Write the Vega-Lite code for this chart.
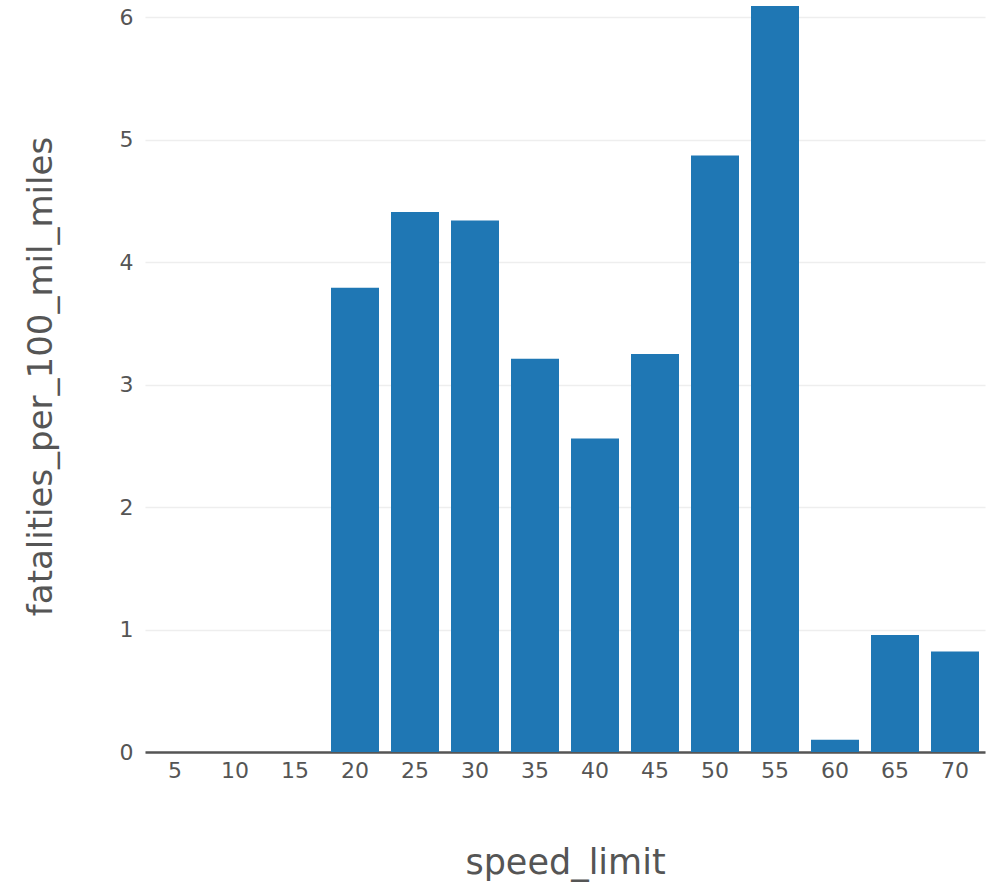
{
  "$schema": "https://vega.github.io/schema/vega-lite/v6.json",
  "width": 840,
  "height": 752,
  "autosize": "none",
  "padding": {"left": 145, "top": 0, "right": 15, "bottom": 139},
  "background": "white",
  "config": {"view": {"stroke": null}, "font": "DejaVu Sans"},
  "data": {"values": [
    {"speed_limit": 5, "fatalities_per_100_mil_miles": 0},
    {"speed_limit": 10, "fatalities_per_100_mil_miles": 0},
    {"speed_limit": 15, "fatalities_per_100_mil_miles": 0},
    {"speed_limit": 20, "fatalities_per_100_mil_miles": 3.79},
    {"speed_limit": 25, "fatalities_per_100_mil_miles": 4.41},
    {"speed_limit": 30, "fatalities_per_100_mil_miles": 4.34},
    {"speed_limit": 35, "fatalities_per_100_mil_miles": 3.21},
    {"speed_limit": 40, "fatalities_per_100_mil_miles": 2.56},
    {"speed_limit": 45, "fatalities_per_100_mil_miles": 3.25},
    {"speed_limit": 50, "fatalities_per_100_mil_miles": 4.87},
    {"speed_limit": 55, "fatalities_per_100_mil_miles": 6.09},
    {"speed_limit": 60, "fatalities_per_100_mil_miles": 0.10},
    {"speed_limit": 65, "fatalities_per_100_mil_miles": 0.955},
    {"speed_limit": 70, "fatalities_per_100_mil_miles": 0.82}
  ]},
  "mark": {"type": "bar", "color": "#1f77b4"},
  "encoding": {
    "x": {
      "field": "speed_limit", "type": "ordinal",
      "scale": {"paddingInner": 0.2, "paddingOuter": 0.1},
      "axis": {
        "title": "speed_limit", "titleFontSize": 35, "titleFontWeight": "normal", "titleColor": "#555",
        "titlePadding": 64, "labelAngle": 0, "labelFontSize": 22, "labelColor": "#555",
        "labelPadding": 8, "ticks": false, "domainColor": "#555", "domainWidth": 2.5, "grid": false
      }
    },
    "y": {
      "field": "fatalities_per_100_mil_miles", "type": "quantitative",
      "scale": {"domain": [0, 6.14], "nice": false},
      "axis": {
        "title": "fatalities_per_100_mil_miles", "titleFontSize": 34, "titleFontWeight": "normal", "titleColor": "#555",
        "titlePadding": 61, "values": [0, 1, 2, 3, 4, 5, 6], "labelFontSize": 22, "labelColor": "#555",
        "labelPadding": 12, "ticks": false, "domain": false, "gridColor": "#eeeeee", "gridWidth": 1.5
      }
    }
  }
}
